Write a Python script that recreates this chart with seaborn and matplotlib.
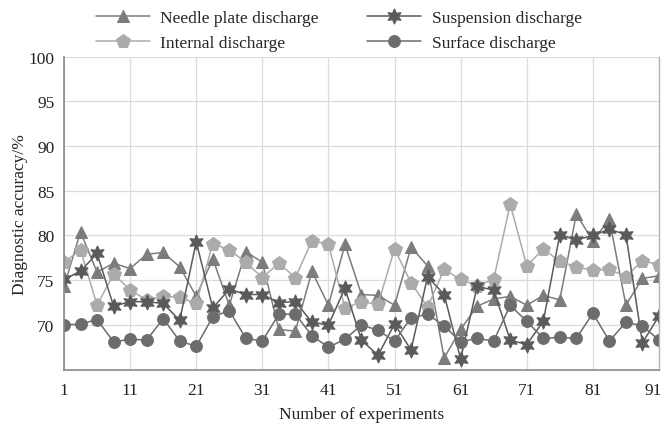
import matplotlib
matplotlib.use("Agg")
import matplotlib.pyplot as plt
import matplotlib.transforms as mtransforms
import seaborn as sns
import numpy as np

# experiment index (37 runs, plotted from 1 to 91)
experiments = 1 + 2.5 * np.arange(37)

needle_plate = [74.3, 80.4, 75.9, 76.9, 76.3, 77.9, 78.1, 76.5, 73.2, 77.4, 72.2, 78.2,
                77.0, 69.5, 69.3, 76.0, 72.2, 79.0, 73.4, 73.3, 72.2, 78.7, 76.6, 66.3,
                69.5, 72.1, 72.9, 73.2, 72.2, 73.3, 72.8, 82.4, 79.4, 81.8, 72.2, 75.2, 75.5]
internal = [77.0, 78.4, 72.2, 75.7, 73.9, 72.8, 73.2, 73.1, 72.4, 79.1, 78.4, 77.0,
            75.3, 76.9, 75.3, 79.4, 79.0, 71.9, 72.6, 72.3, 78.5, 74.7, 72.0, 76.2,
            75.1, 74.4, 75.1, 83.5, 76.6, 78.5, 77.1, 76.5, 76.1, 76.2, 75.4, 77.2, 76.7]
suspension = [75.1, 76.0, 78.0, 72.1, 72.6, 72.6, 72.4, 70.5, 79.3, 71.9, 74.0, 73.4,
              73.4, 72.5, 72.6, 70.3, 70.0, 74.1, 68.3, 66.6, 70.1, 67.2, 75.4, 73.4,
              66.2, 74.3, 73.9, 68.3, 67.8, 70.4, 80.1, 79.5, 80.0, 80.7, 80.1, 68.0, 71.0]
surface = [70.0, 70.1, 70.6, 68.1, 68.4, 68.3, 70.7, 68.2, 67.6, 70.9, 71.6, 68.5,
           68.2, 71.2, 71.2, 68.8, 67.5, 68.4, 70.0, 69.4, 68.2, 70.8, 71.2, 69.9,
           68.1, 68.5, 68.2, 72.2, 70.4, 68.5, 68.6, 68.5, 71.3, 68.2, 70.3, 69.9, 68.3]

series = [
    ("Needle plate discharge", needle_plate, "^", "#7c7c7c", 9),
    ("Internal discharge", internal, "p", "#ababab", 10),
    ("Suspension discharge", suspension, (6, 1, 0), "#5a5a5a", 11),
    ("Surface discharge", surface, "o", "#6c6c6c", 8.5),
]

sns.set_style("white")
plt.rcParams["font.family"] = ["Liberation Serif", "DejaVu Serif"]

fig = plt.figure(figsize=(6.64, 4.27), dpi=100)
ax = fig.add_axes([0.0964, 0.132, 0.896, 0.733])

for name, vals, mk, col, ms in series:
    sns.lineplot(x=experiments, y=vals, ax=ax, label=name, color=col, marker=mk,
                 markersize=ms, markeredgecolor=col, linewidth=1.1, alpha=1)

ax.set_xlim(1, 91)
ax.set_ylim(65, 100)
ax.set_xticks(np.arange(1, 92, 10))
ax.set_yticks(np.arange(70, 101, 5))
ax.grid(True, color="#dcdcdc", linewidth=0.9)
ax.spines["top"].set_visible(False)
ax.spines["right"].set_color("#b5b5b5")
ax.spines["right"].set_linewidth(1.0)
for s in ["left", "bottom"]:
    ax.spines[s].set_color("#8a8a8a")
    ax.spines[s].set_linewidth(1.2)
ax.tick_params(labelsize=12.5, colors="#222222", length=0)
ax.tick_params(axis="x", pad=9)
ax.tick_params(axis="y", pad=7)
ax.set_xlabel("Number of experiments", fontsize=12.5, color="#222222", labelpad=6)
ax.set_ylabel("Diagnostic accuracy/%", fontsize=12.5, color="#222222", labelpad=0)

# last x label sits a little left of its gridline so it stays inside the figure
last = ax.get_xticklabels()[-1]
last.set_transform(last.get_transform() +
                   mtransforms.ScaledTranslation(-0.055, 0, fig.dpi_scale_trans))

ax.legend(ncol=2, frameon=False, fontsize=12.5, handlelength=3.1,
          loc="upper left", bbox_to_anchor=(0.1446, 0.975), bbox_transform=fig.transFigure,
          borderaxespad=0, borderpad=0,
          columnspacing=2.8, labelspacing=0.5, handletextpad=0.6)

fig.savefig("out.png", dpi=100)
